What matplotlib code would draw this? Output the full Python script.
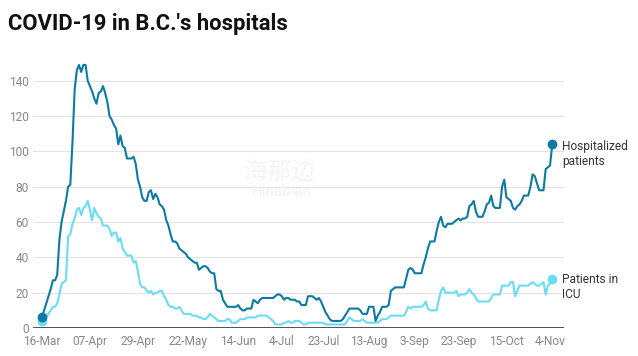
import numpy as np
import pandas as pd
import matplotlib
matplotlib.use("Agg")
import matplotlib.pyplot as plt

# data: daily counts from 16 March 2020
start_date = "2020-03-16"
hospitalized = [
    6, 10, 14, 18, 22, 27, 27, 30, 50, 60,
    66, 72, 80, 81, 105, 135, 146, 149, 145, 149,
    149, 140, 137, 134, 130, 127, 133, 134, 137, 133,
    128, 120, 118, 115, 113, 104, 109, 103, 102, 96,
    96, 96, 97, 93, 84, 80, 74, 72, 72, 77,
    78, 73, 76, 74, 70, 69, 67, 61, 58, 53,
    49, 49, 48, 45, 44, 43, 42, 40, 39, 38,
    37, 37, 33, 34, 35, 35, 34, 32, 31, 31,
    22, 21, 21, 16, 14, 12, 12, 12, 12, 12,
    13, 11, 10, 10, 11, 11, 11, 16, 15, 14,
    16, 17, 17, 17, 17, 17, 17, 18, 19, 19,
    18, 16, 17, 17, 16, 16, 16, 15, 15, 13,
    13, 13, 18, 18, 18, 17, 16, 17, 15, 12,
    9, 7, 5, 4, 4, 4, 4, 4, 5, 7,
    9, 11, 11, 11, 11, 11, 10, 8, 8, 8,
    12, 12, 12, 4, 7, 9, 12, 12, 12, 13,
    21, 22, 23, 23, 23, 23, 23, 28, 33, 34,
    33, 31, 31, 31, 31, 36, 40, 45, 49, 49,
    49, 55, 60, 63, 58, 57, 59, 59, 59, 60,
    61, 62, 61, 62, 62, 63, 69, 70, 72, 66,
    63, 63, 63, 66, 70, 71, 75, 69, 68, 68,
    68, 80, 84, 74, 73, 72, 68, 67, 69, 70,
    72, 75, 75, 75, 80, 87, 86, 82, 78, 78,
    78, 90, 91, 92, 104,
]
icu = [
    4, 5, 6, 8, 10, 12, 12, 14, 19, 25,
    26, 27, 52, 53, 59, 62, 67, 68, 64, 68,
    69, 72, 67, 61, 68, 65, 63, 62, 58, 58,
    58, 56, 52, 54, 54, 49, 51, 45, 43, 41,
    41, 41, 37, 38, 32, 25, 23, 23, 21, 20,
    21, 19, 20, 20, 21, 21, 18, 16, 13, 12,
    12, 11, 11, 12, 10, 8, 8, 8, 8, 7,
    7, 7, 6, 6, 5, 5, 6, 8, 7, 6,
    5, 4, 4, 4, 4, 5, 5, 3, 3, 3,
    4, 5, 5, 5, 6, 6, 6, 6, 6, 7,
    7, 7, 7, 7, 6, 5, 4, 2, 2, 2,
    2, 3, 3, 4, 3, 3, 4, 4, 4, 3,
    2, 2, 3, 3, 3, 3, 3, 3, 3, 3,
    2, 2, 2, 2, 2, 2, 2, 2, 2, 2,
    4, 6, 5, 4, 4, 4, 4, 5, 4, 3,
    3, 3, 3, 3, 3, 4, 5, 5, 5, 6,
    7, 7, 7, 7, 7, 7, 7, 9, 12, 11,
    12, 12, 12, 12, 12, 13, 15, 11, 10, 10,
    10, 10, 16, 21, 23, 20, 20, 20, 20, 20,
    21, 18, 19, 19, 19, 20, 22, 20, 19, 17,
    15, 15, 15, 15, 15, 15, 17, 19, 19, 19,
    19, 24, 24, 24, 24, 26, 26, 18, 21, 24,
    24, 24, 24, 24, 25, 26, 25, 24, 24, 25,
    26, 19, 24, 25, 28,
]
tick_dates = ["2020-03-16", "2020-04-07", "2020-04-29", "2020-05-22",
              "2020-06-14", "2020-07-04", "2020-07-23", "2020-08-13",
              "2020-09-03", "2020-09-23", "2020-10-15", "2020-11-04"]
tick_labels = ["16-Mar", "07-Apr", "29-Apr", "22-May", "14-Jun", "4-Jul",
               "23-Jul", "13-Aug", "3-Sep", "23-Sep", "15-Oct", "4-Nov"]
y_ticks = [0, 20, 40, 60, 80, 100, 120, 140]

df = pd.DataFrame({
    "date": pd.date_range(start_date, periods=len(hospitalized), freq="D"),
    "hospitalized": hospitalized,
    "icu": icu,
})

dark = "#0b7ba3"
light = "#6adcf7"

plt.rcParams["font.family"] = ["Roboto", "DejaVu Sans"]

fig = plt.figure(figsize=(6.38, 3.56), dpi=100)
ax = fig.add_axes([33 / 638, 28 / 356, 531 / 638, 268.4 / 356])

# gridlines
for y in y_ticks[1:]:
    ax.axhline(y, color="#e3e3e3", lw=0.8, zorder=0)
ax.axhline(0, color="#333333", lw=1.2, zorder=3)

ax.plot(df["date"], df["icu"], color=light, lw=1.5, zorder=4, solid_joinstyle="round")
ax.plot(df["date"], df["hospitalized"], color=dark, lw=1.5, zorder=5, solid_joinstyle="round")

first, last = df.iloc[0], df.iloc[-1]
ax.plot([first["date"]], [first["icu"]], "o", color=light, ms=6, zorder=6)
ax.plot([first["date"]], [first["hospitalized"]], "o", color=dark, ms=6, zorder=7)
ax.plot([last["date"]], [last["icu"]], "o", color=light, ms=6, zorder=6)
ax.plot([last["date"]], [last["hospitalized"]], "o", color=dark, ms=6, zorder=7)

ax.annotate("Hospitalized\npatients", (last["date"], last["hospitalized"]),
            xytext=(7, -7), textcoords="offset points", ha="left", va="center",
            fontsize=8.6, color="#333333", linespacing=1.2, annotation_clip=False)
ax.annotate("Patients in\nICU", (last["date"], last["icu"]),
            xytext=(7, -6), textcoords="offset points", ha="left", va="center",
            fontsize=8.6, color="#333333", linespacing=1.2, annotation_clip=False)

t0 = pd.Timestamp(start_date)
ax.set_xlim(t0 - pd.Timedelta(days=4.1), t0 + pd.Timedelta(days=239.4))
ax.set_ylim(0, 152)
ax.set_xticks(pd.to_datetime(tick_dates))
ax.set_xticklabels(tick_labels)
ax.set_yticks(y_ticks)
ax.tick_params(axis="both", length=0, labelsize=8.6, labelcolor="#888888")
ax.tick_params(axis="x", pad=5)
ax.tick_params(axis="y", pad=3)
for s in ax.spines.values():
    s.set_visible(False)

# faint watermark
fig.text(279 / 638, 1 - 173 / 356, "海那边", fontsize=17, color="#f4f4f4",
         family=["Noto Sans CJK SC"], fontweight="light", ha="center", va="center", zorder=0)
fig.text(282 / 638, 1 - 192 / 356, "Hinabian", fontsize=11, color="#f2f2f2",
         ha="center", va="center", zorder=0)

fig.text(8 / 638, 1 - 30 / 356, "COVID-19 in B.C.'s hospitals", fontsize=15.8,
         fontweight="bold", color="#111111", ha="left", va="baseline")

fig.savefig("out.png", dpi=100, facecolor="white")
